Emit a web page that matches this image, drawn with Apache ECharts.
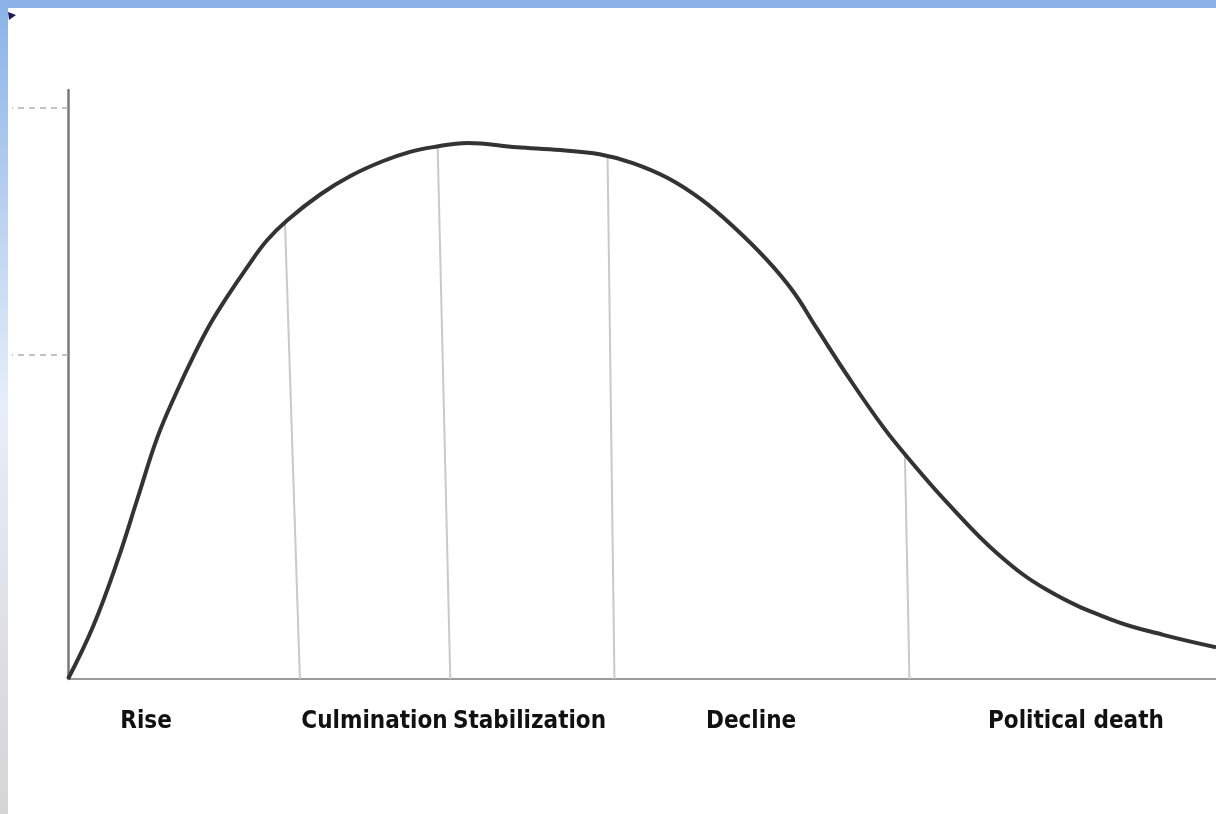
<!DOCTYPE html>
<html>
<head>
<meta charset="utf-8">
<script src="https://cdn.jsdelivr.net/npm/echarts@6/dist/echarts.min.js"></script>
<style>
  html, body { margin: 0; padding: 0; background: #fff; }
  #main { width: 1216px; height: 814px; }
</style>
</head>
<body>
<div id="main"></div>
<script>
  // curve of a political career, x = time (0..100), y = level (0..100)
  var curveX = [0, 2.2, 4.3, 6.1, 7.8, 9.5, 10.9, 12.4, 13.9, 15.6, 17.3, 19.1, 22.0, 24.6, 27.4, 29.8, 31.8, 34.8, 39.1, 42.9, 46.3,
                49.2, 52.2, 55.1, 57.9, 60.9, 63.2, 65.2, 68.1, 71.0, 73.1, 76.6, 80.9, 85.3, 91.0, 95.4, 100];
  var curveY = [0, 9.0, 20.0, 30.9, 41.1, 48.9, 54.7, 60.3, 65.0, 69.9, 74.4, 77.9, 82.3, 85.4, 87.9, 89.5, 90.3, 91.0, 90.3, 89.8, 89.1,
                87.6, 85.1, 81.5, 76.9, 71.1, 65.7, 59.6, 50.9, 42.8, 37.7, 29.9, 21.4, 15.1, 10.0, 7.5, 5.4];

  // phase boundary lines (top on curve, bottom on axis)
  var boundTopX = [18.9, 32.2, 47.0, 72.9];
  var boundTopY = [77.6, 90.4, 88.8, 38.0];
  var boundBottomX = [20.2, 33.3, 47.6, 73.3];

  // phase labels under the axis
  var phaseNames = ['Rise', 'Culmination', 'Stabilization', 'Decline', 'Political death'];
  var phaseX = [6.8, 26.7, 40.2, 59.5, 87.8];

  // marks left of the vertical axis
  var yMarks = [97, 55];

  var curveData = curveX.map(function (x, i) { return [x, curveY[i]]; });
  var boundData = boundTopX.map(function (x, i) {
    return [{ coord: [x, boundTopY[i]] }, { coord: [boundBottomX[i], 0] }];
  });

  var chart = echarts.init(document.getElementById('main'));
  var option = {
    animation: false,
    backgroundColor: '#ffffff',
    grid: { left: 68, right: 0, top: 90, bottom: 135 },
    graphic: [
      {
        type: 'rect', left: 0, top: 0, z: 10,
        shape: { width: 1216, height: 8 },
        style: { fill: '#8ab2e8' }
      },
      {
        type: 'rect', left: 0, top: 0, z: 10,
        shape: { width: 8, height: 814 },
        style: {
          fill: new echarts.graphic.LinearGradient(0, 0, 0, 1, [
            { offset: 0, color: '#8ab2e8' },
            { offset: 0.5, color: '#e6eef9' },
            { offset: 1, color: '#d6d4d6' }
          ])
        }
      },
      {
        type: 'polygon', z: 11,
        shape: { points: [[8, 12], [16, 15], [9, 20]] },
        style: { fill: '#1c1c5a' }
      }
    ],
    xAxis: {
      type: 'value',
      min: 0,
      max: 100,
      axisLine: { show: true, lineStyle: { color: '#9a9a9a', width: 2 } },
      axisTick: { show: false },
      splitLine: { show: false },
      axisLabel: {
        customValues: phaseX,
        margin: 31,
        fontFamily: '"DejaVu Sans Condensed", "Liberation Sans Narrow", sans-serif',
        fontWeight: 'bold',
        fontSize: 24,
        color: '#111',
        formatter: function (v) {
          var i = phaseX.indexOf(v);
          return i >= 0 ? phaseNames[i] : '';
        }
      }
    },
    yAxis: {
      type: 'value',
      min: 0,
      max: 100,
      axisLine: { show: true, lineStyle: { color: '#7a7a7a', width: 2.5 } },
      axisTick: {
        show: true,
        customValues: yMarks,
        length: 56,
        lineStyle: { color: '#b0b0b0', width: 1.5, type: [6, 5] }
      },
      axisLabel: { show: false },
      splitLine: { show: false }
    },
    series: [
      {
        type: 'line',
        data: curveData,
        smooth: 0.4,
        showSymbol: false,
        lineStyle: { color: '#333', width: 4 },
        z: 5,
        markLine: {
          silent: true,
          symbol: 'none',
          label: { show: false },
          lineStyle: { color: '#c9c9c9', width: 2, type: 'solid' },
          data: boundData
        }
      }
    ]
  };
  chart.setOption(option);
</script>
</body>
</html>
